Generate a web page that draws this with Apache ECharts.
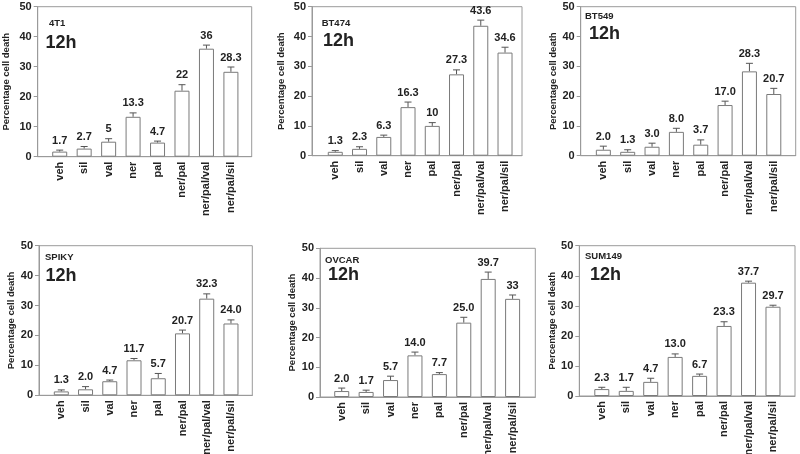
<!DOCTYPE html>
<html>
<head>
<meta charset="utf-8">
<script src="https://cdn.jsdelivr.net/npm/echarts@6/dist/echarts.min.js"></script>
<style>html,body{margin:0;padding:0;background:#fff;}#c{width:800px;height:454px;}</style>
</head>
<body>
<div id="c"></div>
<script>
const categories = ['veh', 'sil', 'val', 'ner', 'pal', 'ner/pal', 'ner/pal/val', 'ner/pal/sil'];
const cellLines = ['4T1', 'BT474', 'BT549', 'SPIKY', 'OVCAR', 'SUM149'];
const timeLabel = '12h';
const yTicks = [0, 10, 20, 30, 40, 50];
const yTitle = 'Percentage cell death';

const values4T1   = [1.7, 2.7, 5, 13.3, 4.7, 22, 36, 28.3];
const errors4T1   = [0.5, 0.7, 1.0, 1.3, 0.5, 2.0, 1.2, 1.6];
const labels4T1   = ['1.7', '2.7', '5', '13.3', '4.7', '22', '36', '28.3'];

const valuesBT474 = [1.3, 2.3, 6.3, 16.3, 10, 27.3, 43.6, 34.6];
const errorsBT474 = [0.4, 0.7, 0.6, 1.7, 1.1, 1.5, 1.9, 1.8];
const labelsBT474 = ['1.3', '2.3', '6.3', '16.3', '10', '27.3', '43.6', '34.6'];

const valuesBT549 = [2.0, 1.3, 3.0, 8.0, 3.7, 17.0, 28.3, 20.7];
const errorsBT549 = [1.2, 0.7, 1.2, 1.2, 1.6, 1.3, 2.7, 1.9];
const labelsBT549 = ['2.0', '1.3', '3.0', '8.0', '3.7', '17.0', '28.3', '20.7'];

const valuesSPIKY = [1.3, 2.0, 4.7, 11.7, 5.7, 20.7, 32.3, 24.0];
const errorsSPIKY = [0.5, 0.9, 0.4, 0.6, 1.6, 1.1, 1.6, 1.2];
const labelsSPIKY = ['1.3', '2.0', '4.7', '11.7', '5.7', '20.7', '32.3', '24.0'];

const valuesOVCAR = [2.0, 1.7, 5.7, 14.0, 7.7, 25.0, 39.7, 33];
const errorsOVCAR = [1.0, 0.6, 1.3, 1.1, 0.5, 1.8, 2.3, 1.3];
const labelsOVCAR = ['2.0', '1.7', '5.7', '14.0', '7.7', '25.0', '39.7', '33'];

const valuesSUM149 = [2.3, 1.7, 4.7, 13.0, 6.7, 23.3, 37.7, 29.7];
const errorsSUM149 = [0.6, 1.2, 1.2, 1.0, 0.6, 1.4, 0.5, 0.5];
const labelsSUM149 = ['2.3', '1.7', '4.7', '13.0', '6.7', '23.3', '37.7', '29.7'];

const panelValues = [values4T1, valuesBT474, valuesBT549, valuesSPIKY, valuesOVCAR, valuesSUM149];
const panelErrors = [errors4T1, errorsBT474, errorsBT549, errorsSPIKY, errorsOVCAR, errorsSUM149];
const panelLabels = [labels4T1, labelsBT474, labelsBT549, labelsSPIKY, labelsOVCAR, labelsSUM149];

// layout (pixels): plot frame and annotation positions
const layout = [
  {l: 37.7, r: 251.7, t: 6.7,   b: 156.7, xmin: -0.90, xmax: 7.85, gap: 26, nameX: 49,  nameY: 18.5, hX: 45.5, hY: 34},
  {l: 312,  r: 522,   t: 6.7,   b: 155.7, xmin: -0.96, xmax: 7.70, gap: 25.5, nameX: 321.7, nameY: 18.3, hX: 323, hY: 32},
  {l: 580.7,r: 795.7, t: 6.7,   b: 155.7, xmin: -0.93, xmax: 7.90, gap: 20, nameX: 585, nameY: 11.7, hX: 589, hY: 25.5},
  {l: 39,   r: 252.3, t: 245.7, b: 395.3, xmin: -0.92, xmax: 7.88, gap: 21.5, nameX: 45,  nameY: 252.8, hX: 45.5, hY: 266.7},
  {l: 320,  r: 535.3, t: 248.3, b: 397,   xmin: -0.89, xmax: 7.93, gap: 20, nameX: 325, nameY: 255.3, hX: 328, hY: 265.8},
  {l: 579.3,r: 795,   t: 245.7, b: 396,   xmin: -0.92, xmax: 7.90, gap: 18.5, nameX: 585, nameY: 251.7, hX: 590, hY: 266.3}
];

const FONT = 'Liberation Sans';
const TEXT = '#222';
const FRAME = '#9a9a9a';

const grid = [], xAxis = [], yAxis = [], series = [], title = [];
const catIdx = categories.map((c, i) => i);

layout.forEach((p, k) => {
  grid.push({left: p.l, top: p.t, width: p.r - p.l, height: p.b - p.t, show: true,
    borderColor: FRAME, borderWidth: 1, backgroundColor: 'transparent', outerBoundsMode: 'none'});
  xAxis.push({type: 'value', gridIndex: k, min: p.xmin, max: p.xmax,
    splitLine: {show: false}, axisTick: {show: false},
    axisLine: {show: true, onZero: false, lineStyle: {color: FRAME}},
    axisLabel: {customValues: catIdx, rotate: 90, margin: 5, fontSize: 11, fontWeight: 'bold',
      fontFamily: FONT, color: TEXT, formatter: v => categories[Math.round(v)]}});
  yAxis.push({type: 'value', gridIndex: k, min: yTicks[0], max: yTicks[yTicks.length - 1], interval: 10,
    splitLine: {show: false},
    axisLine: {show: true, onZero: false, lineStyle: {color: FRAME}},
    axisTick: {show: true, length: 4, lineStyle: {color: FRAME}},
    axisLabel: {margin: 6, fontSize: 11, fontWeight: 'bold', fontFamily: FONT, color: TEXT},
    name: yTitle, nameLocation: 'middle', nameGap: p.gap,
    nameTextStyle: {fontSize: 9.5, fontWeight: 'bold', fontFamily: FONT, color: TEXT}});
  const vals = panelValues[k], errs = panelErrors[k], labs = panelLabels[k];
  series.push({type: 'bar', xAxisIndex: k, yAxisIndex: k, barWidth: 15,
    itemStyle: {color: '#fff', borderColor: '#7a7a7a', borderWidth: 1},
    data: vals.map((v, i) => [i, v]), silent: true, animation: false});
  series.push({type: 'custom', xAxisIndex: k, yAxisIndex: k, animation: false, silent: true,
    data: vals.map((v, i) => [i, v, errs[i]]),
    encode: {x: 0, y: 1},
    renderItem: (params, api) => {
      const x = api.value(0), v = api.value(1), e = api.value(2);
      const lab = labs[params.dataIndex];
      const base = api.coord([x, v]);
      const top = api.coord([x, v + e]);
      const st = {stroke: '#555', lineWidth: 1};
      return {type: 'group', children: [
        {type: 'line', shape: {x1: base[0], y1: base[1], x2: top[0], y2: top[1]}, style: st},
        {type: 'line', shape: {x1: top[0] - 3.5, y1: top[1], x2: top[0] + 3.5, y2: top[1]}, style: st},
        {type: 'text', x: top[0], y: top[1] - 4, style: {text: lab, fill: TEXT, fontSize: 11,
          fontWeight: 'bold', fontFamily: FONT, align: 'center', verticalAlign: 'bottom'}}
      ]};
    }});
  title.push({text: cellLines[k], left: p.nameX, top: p.nameY, padding: 0,
    textStyle: {fontSize: 9.5, fontWeight: 'bold', fontFamily: FONT, color: TEXT}});
  title.push({text: timeLabel, left: p.hX, top: p.hY, padding: 0,
    textStyle: {fontSize: 18, fontWeight: 'bold', fontFamily: FONT, color: TEXT}});
});

const chart = echarts.init(document.getElementById('c'), null, {renderer: 'canvas'});
chart.setOption({animation: false, backgroundColor: '#fff', title, grid, xAxis, yAxis, series});
</script>
</body>
</html>
